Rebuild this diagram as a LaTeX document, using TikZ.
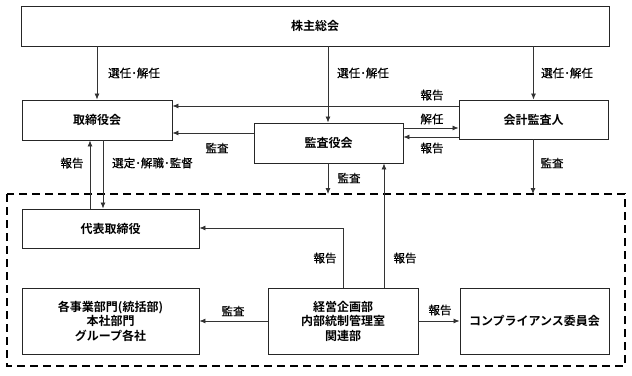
\documentclass[tikz,border=0pt]{standalone}
\usepackage{fontspec}
\setmainfont{Noto Sans CJK JP}[BoldFont={Noto Sans CJK JP Bold}]
\newfontfamily\lblfont{Noto Sans CJK JP}[FakeBold=0.6]
\usetikzlibrary{arrows.meta}
\begin{document}
\begin{tikzpicture}[x=1pt,y=-1pt,
  box/.style={draw=black!85,line width=0.9pt,inner sep=0pt,font=\fontsize{12}{14.5}\selectfont\bfseries,align=center},
  lbl/.style={font=\fontsize{11.5}{13}\lblfont,inner sep=0pt},
  arr/.style={draw=black!80,line width=0.8pt,-{Latex[length=6pt,width=5pt]}},
  ln/.style={draw=black!80,line width=0.8pt}]
\useasboundingbox (0,0) rectangle (632,375);
% boxes
\node[box,minimum width=588pt,minimum height=40pt] (gm) at (315,26) {株主総会};
\node[box,minimum width=150pt,minimum height=40pt] (bd) at (97,120) {取締役会};
\node[box,minimum width=149pt,minimum height=40pt] (ab) at (328.5,143) {監査役会};
\node[box,minimum width=149pt,minimum height=39pt] (au) at (533.5,119.5) {会計監査人};
\node[box,minimum width=177pt,minimum height=39pt] (rd) at (110.5,228.5) {代表取締役};
\node[box,minimum width=177pt,minimum height=66pt] (bu) at (110.5,321) {各事業部門(統括部)\\本社部門\\グループ各社};
\node[box,minimum width=150pt,minimum height=66pt] (cp) at (343,321) {経営企画部\\内部統制管理室\\関連部};
\node[box,minimum width=149pt,minimum height=66pt] (cc) at (534.5,321) {コンプライアンス委員会};
% dashed group
\draw[draw=black,line width=2pt,dash pattern=on 8pt off 5pt] (7,194) rectangle (625,366);
\coordinate (d1) at (328,194);
\coordinate (d2) at (533,194);
\coordinate (k) at (343,228);
% connectors
\draw[arr] (gm.south -| bd.north) -- (bd.north);
\draw[arr] (gm.south -| d1) -- (ab.north -| d1);
\draw[arr] (gm.south -| au.north) -- (au.north);
\draw[arr] (au.west |- 0,106) -- (bd.east |- 0,106);
\draw[arr] (ab.west |- 0,133) -- (bd.east |- 0,133);
\draw[arr] (ab.east |- 0,128) -- (au.west |- 0,128);
\draw[arr] (au.west |- 0,137) -- (ab.east |- 0,137);
\draw[arr] (rd.north -| 90,0) -- (bd.south -| 90,0);
\draw[arr] (bd.south -| 103,0) -- (rd.north -| 103,0);
\draw[arr] (ab.south -| d1) -- (d1);
\draw[arr] (au.south -| d2) -- (d2);
\draw[arr] (cp.north -| k) -- (k) -- (rd.east |- k);
\draw[arr] (cp.north -| 384,0) -- (ab.south -| 384,0);
\draw[arr] (cp.west) -- (bu.east);
\draw[arr] (cp.east) -- (cc.west);
% labels
\node[lbl,anchor=west] at (108,73) {選任･解任};
\node[lbl,anchor=west] at (337,73) {選任･解任};
\node[lbl,anchor=west] at (541,73) {選任･解任};
\node[lbl] at (432,95) {報告};
\node[lbl] at (432,119) {解任};
\node[lbl] at (432,148) {報告};
\node[lbl] at (217,148) {監査};
\node[lbl] at (72,163) {報告};
\node[lbl,anchor=west] at (112,163) {選定･解職･監督};
\node[lbl] at (349,178) {監査};
\node[lbl] at (552,163) {監査};
\node[lbl] at (325,258) {報告};
\node[lbl] at (405,258) {報告};
\node[lbl] at (233,311) {監査};
\node[lbl] at (440,310) {報告};
\end{tikzpicture}
\end{document}
